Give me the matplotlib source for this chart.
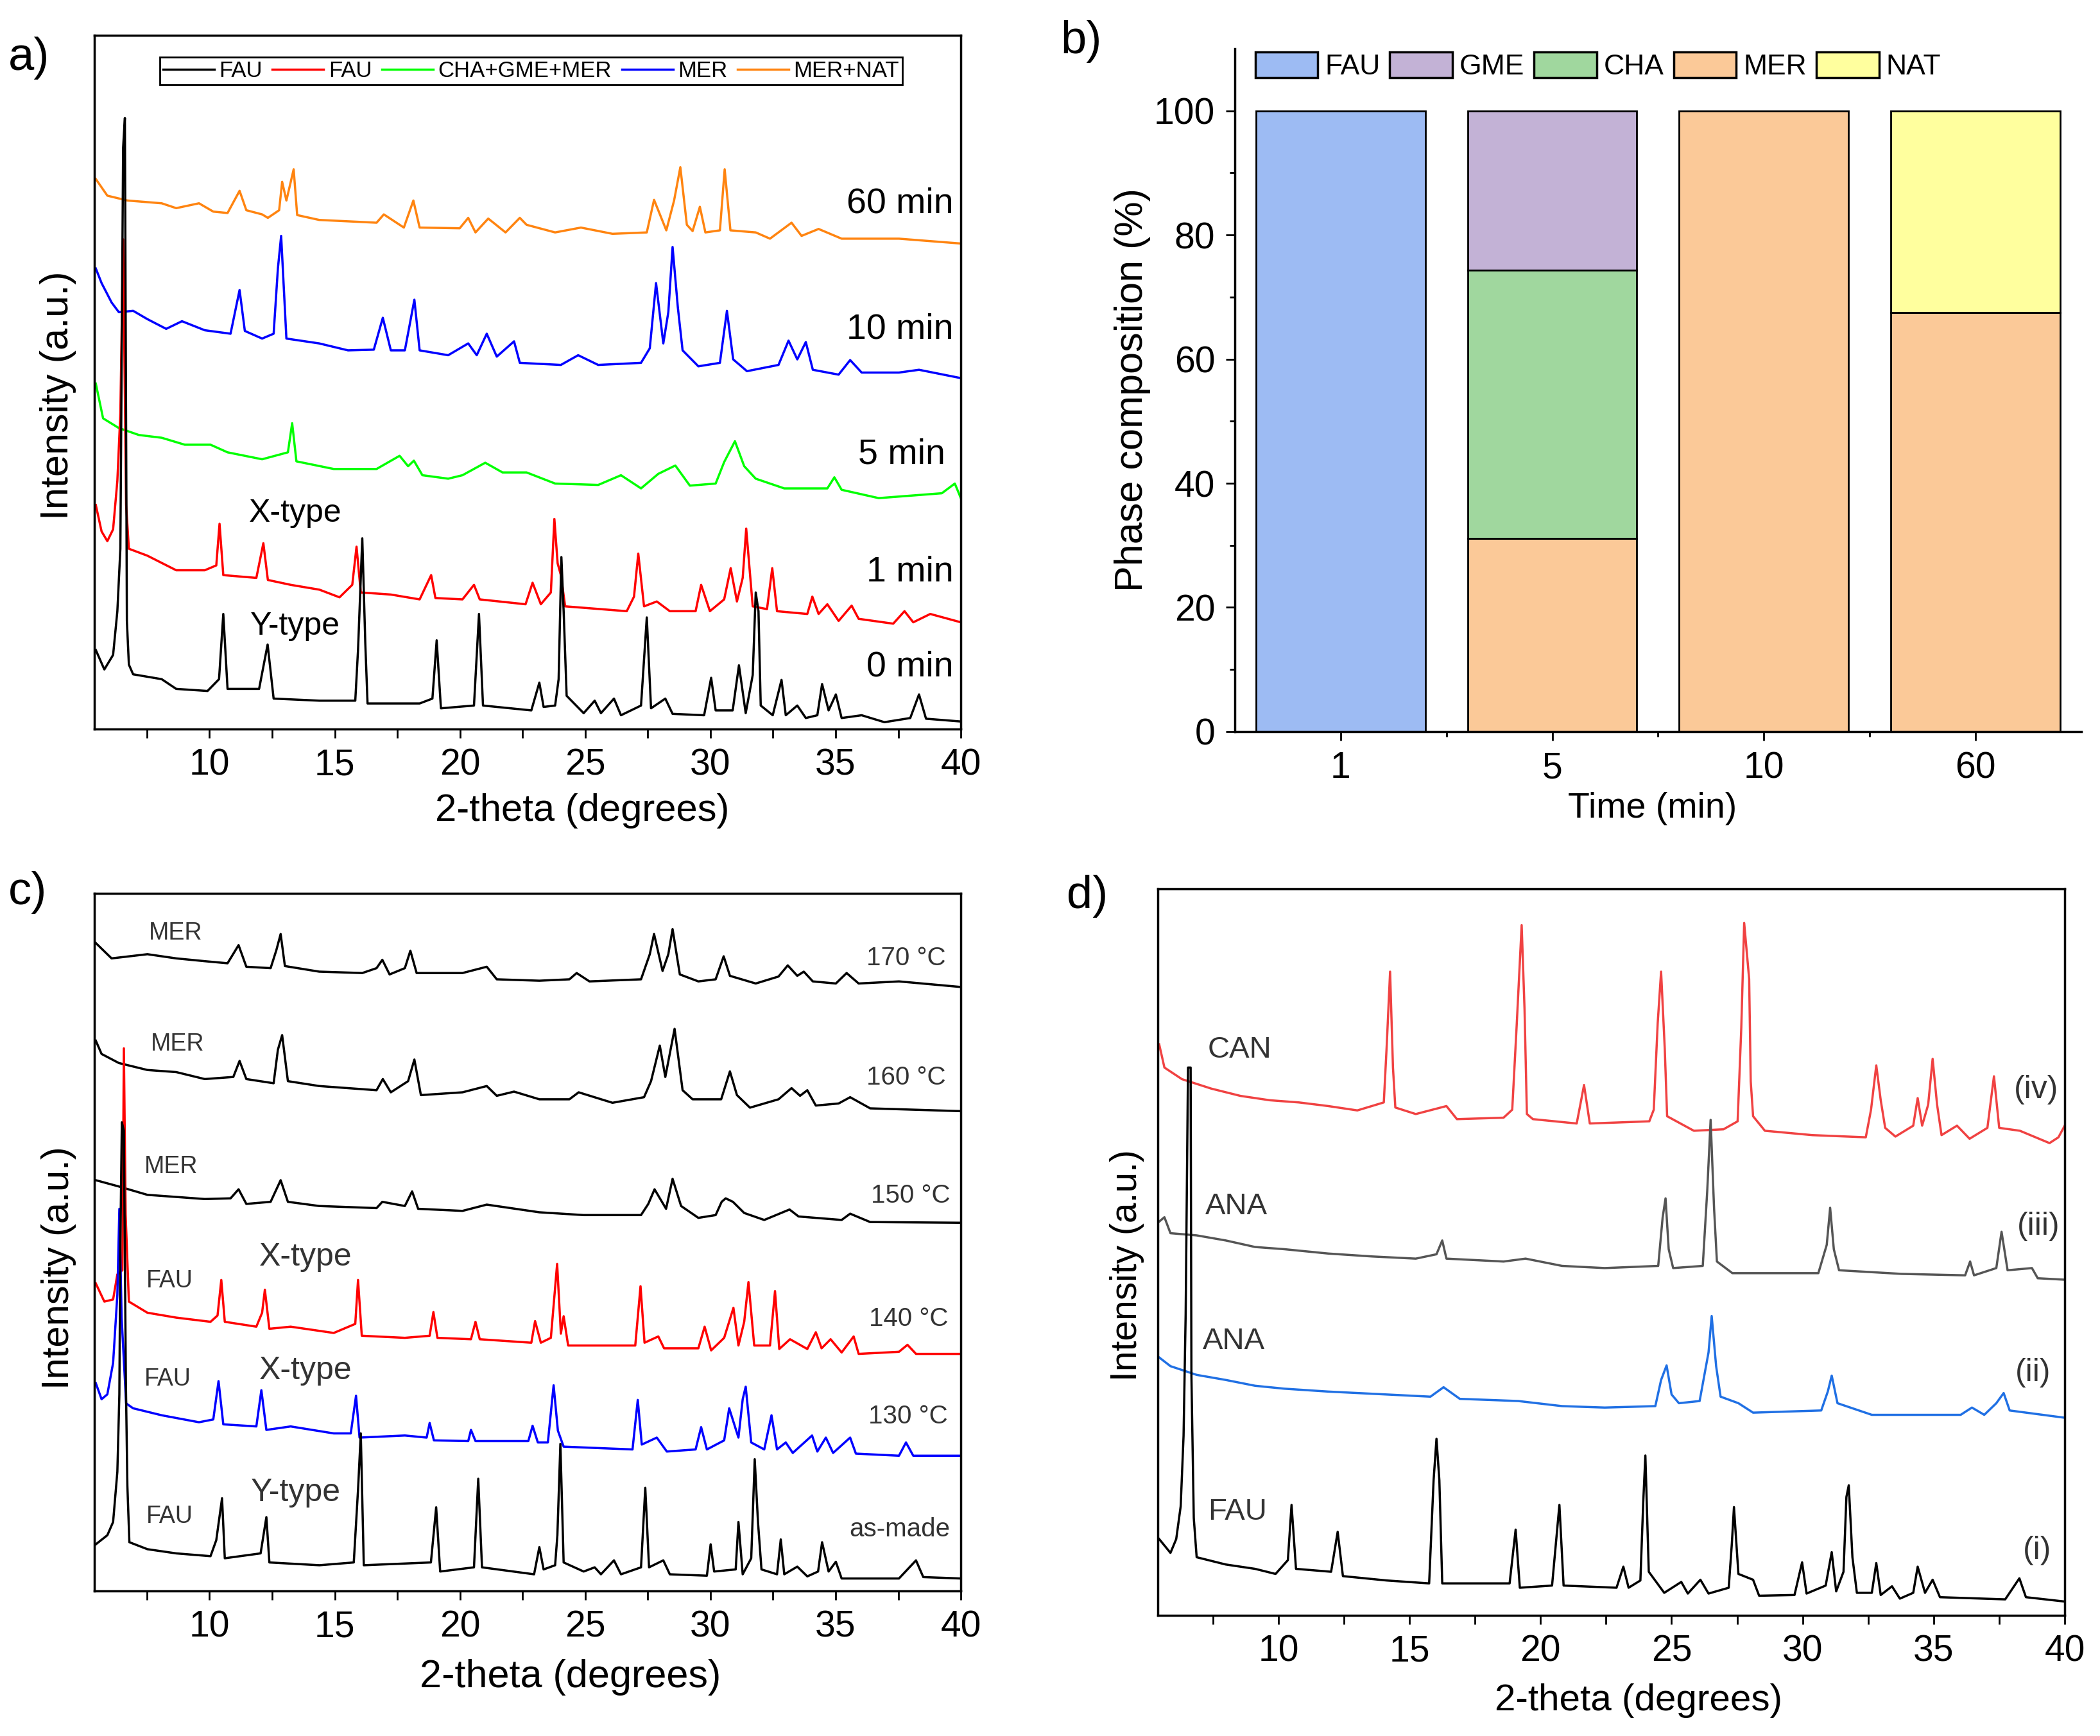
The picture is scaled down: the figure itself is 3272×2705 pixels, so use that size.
import numpy as np
import matplotlib
matplotlib.use('Agg')
import matplotlib.pyplot as plt
from matplotlib.lines import Line2D
from matplotlib.patches import Patch

plt.rcParams['font.family'] = ['Liberation Sans', 'DejaVu Sans']

# ---------- a) patterns vs time: (2-theta, intensity as % of axis height) ----------
a_0min = [(5.46, 11.4), (5.8, 8.6), (6.15, 10.7), (6.32, 17.0), (6.44, 26.0), (6.55, 83.8), (6.62, 88.1),
          (6.7, 15.6), (6.78, 9.3), (6.95, 7.9), (8.09, 7.2), (8.67, 5.8), (9.92, 5.5), (10.38, 7.2),
          (10.55, 16.6), (10.72, 5.8), (11.98, 5.8), (12.32, 12.2), (12.56, 4.4), (14.39, 4.1), (15.82, 4.1),
          (15.93, 11.4), (16.1, 27.5), (16.22, 12.4), (16.31, 3.7), (18.39, 3.7), (18.9, 4.4), (19.07, 12.8),
          (19.24, 3.0), (20.56, 3.4), (20.76, 16.6), (20.92, 3.4), (22.85, 2.7), (23.17, 6.7), (23.34, 3.2),
          (23.8, 3.4), (23.94, 7.2), (24.05, 24.8), (24.14, 17.0), (24.26, 4.8), (24.94, 2.3), (25.38, 4.1),
          (25.63, 2.3), (26.15, 4.4), (26.43, 2.0), (27.23, 3.4), (27.46, 16.1), (27.63, 3.0), (28.2, 4.4),
          (28.49, 2.2), (29.75, 2.0), (30.03, 7.4), (30.21, 2.7), (30.89, 2.7), (31.14, 9.2), (31.41, 2.3),
          (31.69, 7.8), (31.81, 19.7), (31.92, 17.0), (32.01, 3.4), (32.49, 2.0), (32.84, 7.1), (33.01, 2.0),
          (33.47, 3.4), (33.81, 1.6), (34.27, 2.0), (34.46, 6.5), (34.72, 2.7), (35.01, 5.0), (35.24, 1.6),
          (36.04, 2.0), (36.95, 1.0), (37.98, 1.6), (38.33, 5.0), (38.61, 1.5), (40.0, 1.1)]
a_1min = [(5.46, 32.3), (5.69, 28.5), (5.92, 27.1), (6.15, 28.8), (6.32, 35.8), (6.44, 45.5), (6.55, 70.6),
          (6.67, 32.3), (6.78, 26.0), (7.52, 25.0), (8.67, 22.9), (9.81, 22.9), (10.27, 23.6), (10.4, 29.6),
          (10.55, 22.2), (11.87, 21.8), (12.15, 26.8), (12.33, 21.5), (13.24, 20.8), (14.39, 20.1), (15.19, 19.0),
          (15.7, 20.8), (15.87, 26.3), (16.04, 19.7), (17.24, 19.4), (18.39, 18.7), (18.85, 22.2), (19.02, 18.9),
          (20.1, 18.7), (20.56, 20.8), (20.79, 18.7), (22.62, 18.0), (22.9, 21.1), (23.23, 18.0), (23.63, 19.7),
          (23.77, 30.3), (23.9, 23.9), (24.03, 22.2), (24.2, 17.7), (26.66, 17.0), (26.95, 19.1), (27.12, 25.3),
          (27.35, 17.7), (27.86, 18.4), (28.38, 17.0), (29.41, 17.0), (29.63, 20.8), (29.98, 17.0), (30.55, 18.7),
          (30.81, 23.2), (31.06, 18.4), (31.29, 21.8), (31.43, 28.9), (31.69, 17.7), (32.26, 17.3), (32.47, 23.2),
          (32.66, 17.0), (33.87, 16.6), (34.07, 19.1), (34.32, 16.6), (34.67, 18.0), (35.12, 15.6), (35.64, 17.8),
          (35.92, 15.9), (37.3, 15.2), (37.75, 17.0), (38.1, 15.4), (38.78, 16.6), (40.0, 15.4)]
a_5min = [(5.46, 49.8), (5.75, 44.8), (6.38, 43.4), (7.18, 42.4), (8.09, 42.0), (9.01, 41.0), (10.04, 41.0),
          (10.72, 39.9), (12.1, 38.9), (13.13, 39.9), (13.3, 44.1), (13.47, 38.6), (14.96, 37.5), (16.67, 37.5),
          (17.59, 39.4), (17.93, 37.9), (18.16, 38.7), (18.5, 36.6), (19.53, 36.1), (20.1, 36.6), (21.01, 38.4),
          (21.7, 37.0), (22.66, 37.0), (23.8, 35.4), (25.52, 35.2), (26.43, 36.6), (27.23, 34.7), (27.92, 36.8),
          (28.6, 38.0), (29.18, 35.1), (30.21, 35.4), (30.55, 38.5), (30.98, 41.5), (31.35, 37.9), (31.81, 36.1),
          (32.95, 34.7), (34.67, 34.7), (34.95, 36.3), (35.24, 34.5), (36.72, 33.3), (39.24, 34.0), (39.76, 35.4),
          (40.0, 33.3)]
a_10min = [(5.46, 66.4), (5.69, 64.3), (6.09, 61.5), (6.38, 60.1), (6.95, 60.3), (7.52, 59.1), (8.27, 57.7),
           (8.9, 58.8), (9.81, 57.5), (10.84, 57.0), (11.2, 63.3), (11.41, 57.4), (12.1, 56.3), (12.56, 57.0),
           (12.73, 66.4), (12.86, 71.1), (13.07, 56.3), (14.38, 55.6), (15.53, 54.6), (16.56, 54.7), (16.92, 59.3),
           (17.24, 54.6), (17.8, 54.6), (18.18, 61.9), (18.39, 54.6), (19.53, 53.9), (20.33, 55.6), (20.67, 53.9),
           (21.07, 57.0), (21.47, 53.7), (22.16, 55.9), (22.39, 52.8), (24.03, 52.5), (24.72, 53.9), (25.52, 52.5),
           (27.23, 52.8), (27.58, 54.9), (27.83, 64.3), (28.12, 55.6), (28.32, 60.1), (28.49, 69.5), (28.7, 60.8),
           (28.89, 54.6), (29.52, 52.3), (30.38, 52.8), (30.66, 60.3), (30.91, 53.3), (31.46, 51.6), (32.72, 52.5),
           (33.12, 56.0), (33.47, 53.3), (33.81, 55.8), (34.09, 51.8), (35.12, 51.1), (35.58, 53.2), (36.04, 51.4),
           (37.53, 51.4), (38.33, 51.8), (40.0, 50.6)]
a_60min = [(5.46, 79.3), (5.92, 76.9), (6.72, 76.2), (8.09, 75.8), (8.67, 75.1), (9.58, 75.8), (10.15, 74.6),
           (10.72, 74.4), (11.2, 77.6), (11.47, 74.8), (12.1, 74.2), (12.33, 73.7), (12.78, 74.8), (12.9, 78.9),
           (13.07, 76.2), (13.36, 80.7), (13.5, 74.1), (14.38, 73.4), (15.53, 73.2), (16.67, 73.0), (16.96, 74.2),
           (17.76, 72.3), (18.14, 76.2), (18.39, 72.3), (19.99, 72.2), (20.33, 73.7), (20.62, 71.6), (21.13, 73.6),
           (21.82, 71.6), (22.39, 73.7), (22.66, 72.7), (23.8, 71.6), (24.83, 72.3), (26.09, 71.4), (27.46, 71.6),
           (27.75, 76.3), (28.24, 71.9), (28.55, 76.2), (28.8, 81.0), (29.06, 72.7), (29.29, 71.8), (29.58, 75.3),
           (29.8, 71.6), (30.38, 71.9), (30.57, 80.7), (30.8, 71.9), (31.81, 71.6), (32.38, 70.7), (33.24, 73.0),
           (33.64, 71.1), (34.32, 72.1), (35.24, 70.7), (37.53, 70.7), (40.0, 70.0)]
a_curves = [a_0min, a_1min, a_5min, a_10min, a_60min]
a_colors = ['#000000', '#FF0000', '#00FF00', '#0000FF', '#FF8410']
a_legend = ['FAU', 'FAU', 'CHA+GME+MER', 'MER', 'MER+NAT']
a_times = ['0 min', '1 min', '5 min', '10 min', '60 min']

# ---------- b) phase composition ----------
b_times = ['1', '5', '10', '60']
b_mer = [0, 31.1, 100, 67.5]
b_cha = [0, 43.2, 0, 0]
b_gme = [0, 25.7, 0, 0]
b_fau = [100, 0, 0, 0]
b_nat = [0, 0, 0, 32.5]

# ---------- c) patterns vs temperature ----------
c_asmade = [(5.46, 6.7), (5.92, 8.0), (6.15, 9.9), (6.32, 17.1), (6.4, 28.2), (6.44, 50.0), (6.5, 67.2),
            (6.58, 66.0), (6.66, 30.0), (6.72, 15.1), (6.8, 7.0), (7.52, 6.0), (8.67, 5.4), (10.04, 5.0),
            (10.27, 7.3), (10.5, 13.3), (10.61, 4.7), (12.04, 5.4), (12.27, 10.6), (12.39, 4.1), (14.39, 3.7),
            (15.76, 4.1), (15.93, 14.5), (16.04, 22.6), (16.16, 3.7), (18.84, 4.1), (19.05, 12.0), (19.21, 2.8),
            (20.56, 3.4), (20.73, 16.1), (20.88, 3.4), (22.96, 2.4), (23.17, 6.3), (23.34, 3.1), (23.8, 3.7),
            (23.89, 8.0), (24.01, 21.1), (24.14, 4.1), (24.94, 2.8), (25.38, 3.4), (25.63, 2.4), (26.15, 4.4),
            (26.43, 2.4), (27.23, 3.4), (27.4, 14.8), (27.55, 3.4), (28.12, 4.4), (28.38, 2.4), (29.86, 2.2),
            (30.01, 6.7), (30.15, 2.8), (31.01, 3.1), (31.12, 9.9), (31.29, 2.4), (31.63, 4.7), (31.77, 18.9),
            (31.9, 9.9), (32.04, 3.1), (32.66, 2.4), (32.81, 7.4), (32.95, 2.4), (33.47, 3.5), (33.87, 2.1),
            (34.3, 2.8), (34.46, 7.0), (34.72, 2.8), (35.01, 4.2), (35.24, 1.8), (37.53, 1.8), (38.21, 4.4),
            (38.5, 2.0), (40.0, 1.8)]
c_130 = [(5.46, 29.8), (5.69, 27.5), (5.92, 28.2), (6.15, 32.7), (6.32, 42.5), (6.4, 54.8), (6.49, 39.2),
         (6.67, 26.9), (6.95, 26.2), (8.09, 25.2), (9.58, 24.2), (10.15, 24.6), (10.36, 30.1), (10.55, 23.9),
         (11.87, 23.6), (12.07, 28.8), (12.27, 23.1), (13.24, 23.6), (14.96, 22.6), (15.64, 22.6), (15.85, 28.0),
         (15.99, 22.0), (17.8, 22.3), (18.67, 22.0), (18.79, 24.1), (18.96, 21.6), (20.33, 21.5), (20.44, 23.1),
         (20.62, 21.5), (22.73, 21.5), (22.9, 23.7), (23.11, 21.3), (23.51, 21.3), (23.74, 29.5), (23.91, 23.0),
         (24.14, 20.7), (26.89, 20.3), (27.1, 27.4), (27.26, 21.0), (27.86, 22.0), (28.26, 20.0), (29.41, 20.3),
         (29.63, 23.5), (29.86, 20.3), (30.55, 21.6), (30.75, 26.2), (31.12, 22.0), (31.29, 27.5), (31.41, 29.3),
         (31.63, 21.3), (32.15, 20.3), (32.44, 25.2), (32.66, 20.3), (33.01, 21.3), (33.29, 19.8), (34.06, 22.3),
         (34.27, 20.0), (34.61, 22.0), (34.9, 19.8), (35.58, 22.0), (35.81, 19.7), (37.53, 19.4), (37.81, 21.3),
         (38.1, 19.4), (40.0, 19.4)]
c_140 = [(5.46, 44.1), (5.8, 41.5), (6.15, 41.8), (6.32, 45.4), (6.52, 46.0), (6.58, 77.8), (6.65, 54.0),
         (6.78, 41.5), (7.52, 39.9), (8.67, 39.2), (10.04, 38.6), (10.32, 39.5), (10.47, 44.6), (10.61, 38.6),
         (11.87, 37.9), (12.1, 39.9), (12.21, 43.2), (12.39, 37.6), (13.24, 37.9), (14.96, 37.0), (15.82, 38.3),
         (15.93, 44.6), (16.08, 36.6), (17.8, 36.3), (18.79, 36.6), (18.94, 40.0), (19.1, 36.3), (20.44, 36.1),
         (20.62, 38.6), (20.79, 36.1), (22.85, 35.6), (23.0, 38.7), (23.23, 35.6), (23.63, 36.3), (23.88, 46.9),
         (24.03, 36.9), (24.14, 39.4), (24.32, 35.2), (27.0, 35.2), (27.21, 43.7), (27.37, 35.6), (27.92, 36.5),
         (28.15, 34.8), (29.52, 34.8), (29.77, 37.9), (30.03, 34.5), (30.55, 36.3), (30.92, 40.6), (31.12, 35.2),
         (31.35, 38.6), (31.52, 44.3), (31.75, 35.2), (32.38, 35.2), (32.58, 43.0), (32.75, 34.7), (33.18, 36.1),
         (33.87, 34.7), (34.21, 37.1), (34.44, 34.8), (34.8, 36.1), (35.24, 34.2), (35.72, 36.5), (35.92, 34.0),
         (37.53, 34.3), (37.87, 35.3), (38.21, 34.0), (40.0, 34.0)]
c_150 = [(5.46, 58.9), (6.38, 58.0), (7.52, 56.8), (8.67, 56.5), (9.81, 56.2), (10.84, 56.3), (11.16, 57.6),
         (11.47, 55.5), (12.44, 55.8), (12.84, 58.9), (13.13, 55.8), (14.38, 55.2), (16.67, 54.9), (16.9, 55.8),
         (17.8, 55.2), (18.09, 57.3), (18.33, 54.8), (20.1, 54.5), (21.07, 55.4), (23.17, 54.3), (24.94, 53.9),
         (27.23, 53.9), (27.52, 55.5), (27.77, 57.6), (28.23, 54.8), (28.49, 59.1), (28.83, 55.2), (29.52, 53.5),
         (30.21, 53.9), (30.45, 55.8), (30.61, 56.3), (30.9, 55.8), (31.35, 54.2), (32.15, 53.2), (33.16, 54.7),
         (33.52, 53.7), (35.24, 53.2), (35.58, 54.1), (36.38, 52.9), (40.0, 52.8)]
c_160 = [(5.46, 78.9), (5.69, 77.0), (6.38, 75.7), (7.52, 74.7), (8.67, 74.4), (9.81, 73.4), (10.95, 73.7),
         (11.2, 76.0), (11.47, 73.4), (12.56, 72.8), (12.73, 77.6), (12.9, 79.7), (13.13, 73.1), (14.38, 72.4),
         (16.67, 71.8), (16.92, 73.4), (17.24, 71.5), (17.93, 73.1), (18.18, 76.2), (18.44, 71.1), (20.1, 71.5),
         (21.07, 72.4), (21.47, 71.0), (22.16, 71.6), (23.17, 70.5), (24.37, 70.5), (24.74, 71.5), (26.09, 70.0),
         (27.35, 70.8), (27.63, 73.1), (27.98, 78.2), (28.2, 73.7), (28.57, 80.6), (28.89, 71.8), (29.29, 70.5),
         (30.43, 70.5), (30.78, 74.5), (31.06, 71.1), (31.58, 69.3), (32.72, 70.5), (33.24, 72.1), (33.58, 71.0),
         (33.87, 71.8), (34.21, 69.6), (35.12, 69.9), (35.58, 70.8), (36.38, 69.2), (40.0, 68.8)]
c_170 = [(5.46, 92.9), (6.09, 90.7), (7.52, 91.3), (8.67, 90.7), (9.81, 90.3), (10.72, 90.0), (11.16, 92.6),
         (11.47, 89.5), (12.44, 89.3), (12.67, 91.9), (12.84, 94.2), (13.01, 89.6), (14.38, 88.8), (16.1, 88.6),
         (16.67, 89.3), (16.9, 90.5), (17.19, 88.4), (17.8, 89.3), (18.02, 91.8), (18.27, 88.6), (20.1, 88.6),
         (21.07, 89.5), (21.47, 87.7), (23.17, 87.5), (24.37, 87.7), (24.66, 88.6), (25.17, 87.4), (27.23, 87.7),
         (27.58, 91.3), (27.75, 94.2), (28.09, 88.9), (28.32, 91.3), (28.49, 94.9), (28.78, 88.4), (29.52, 87.4),
         (30.21, 87.7), (30.53, 91.0), (30.78, 88.2), (31.81, 87.1), (32.72, 88.1), (33.09, 89.7), (33.47, 88.2),
         (33.73, 88.8), (34.09, 87.4), (35.01, 87.1), (35.44, 88.6), (35.92, 87.1), (37.53, 87.4), (40.0, 86.6)]
c_curves = [c_asmade, c_130, c_140, c_150, c_160, c_170]
c_colors = ['#000000', '#0000FF', '#FF0000', '#000000', '#000000', '#000000']
c_temps = ['as-made', '130 °C', '140 °C', '150 °C', '160 °C', '170 °C']

# ---------- d) other products ----------
d_i = [(5.45, 10.5), (5.88, 8.6), (6.1, 10.5), (6.27, 15.0), (6.38, 24.7), (6.46, 41.4), (6.55, 75.4),
       (6.65, 75.4), (6.68, 33.0), (6.77, 13.4), (6.88, 8.0), (7.99, 7.0), (9.11, 6.4), (9.89, 5.7), (10.36, 7.6),
       (10.5, 15.2), (10.67, 6.4), (12.01, 6.0), (12.26, 11.5), (12.46, 5.4), (14.13, 4.8), (15.75, 4.4),
       (15.92, 18.6), (16.03, 24.3), (16.14, 18.6), (16.25, 4.4), (18.82, 4.4), (19.05, 11.8), (19.21, 3.8),
       (20.44, 4.1), (20.72, 15.2), (20.88, 4.1), (22.9, 3.8), (23.16, 6.7), (23.36, 3.8), (23.81, 4.8),
       (23.92, 15.7), (24.0, 22.0), (24.13, 6.0), (24.72, 3.1), (25.37, 4.6), (25.62, 3.0), (26.1, 4.9),
       (26.41, 3.0), (27.18, 3.8), (27.3, 9.9), (27.38, 14.9), (27.55, 5.7), (28.11, 4.9), (28.34, 2.7),
       (29.69, 2.8), (29.98, 7.3), (30.15, 3.0), (30.88, 4.1), (31.11, 8.7), (31.28, 3.3), (31.56, 6.0),
       (31.67, 16.3), (31.76, 17.9), (31.9, 8.0), (32.07, 3.1), (32.64, 3.1), (32.81, 7.2), (32.98, 2.8),
       (33.41, 4.0), (33.71, 2.3), (34.22, 3.1), (34.39, 6.7), (34.67, 3.1), (34.96, 4.9), (35.24, 2.5),
       (37.73, 2.2), (38.27, 5.1), (38.52, 2.5), (40.0, 1.9)]
d_ii = [(5.45, 35.5), (5.88, 34.3), (6.88, 33.1), (7.99, 32.4), (9.11, 31.6), (10.22, 31.2), (11.9, 30.8),
        (14.13, 30.4), (15.8, 30.1), (16.3, 31.4), (16.92, 29.8), (19.15, 29.5), (20.82, 28.8), (22.45, 28.6),
        (24.38, 28.8), (24.6, 32.4), (24.81, 34.4), (25.0, 30.4), (25.28, 29.2), (26.07, 29.5), (26.41, 36.2),
        (26.53, 41.2), (26.7, 34.3), (26.87, 30.1), (27.55, 29.2), (28.11, 27.9), (30.71, 28.2), (30.96, 30.8),
        (31.11, 33.0), (31.33, 29.2), (32.64, 27.6), (36.03, 27.6), (36.46, 28.6), (36.93, 27.6), (37.39, 29.2),
        (37.67, 30.6), (37.9, 28.2), (40.0, 27.2)]
d_iii = [(5.45, 54.2), (5.65, 54.8), (5.88, 52.6), (6.88, 52.3), (7.99, 51.6), (9.11, 50.7), (10.22, 50.4),
         (11.9, 49.8), (13.57, 49.4), (15.24, 49.1), (16.03, 49.7), (16.25, 51.6), (16.41, 49.1), (18.59, 48.7),
         (19.43, 49.1), (20.82, 48.1), (22.45, 47.8), (24.49, 48.1), (24.66, 54.8), (24.77, 57.4), (24.89, 50.4),
         (25.06, 47.8), (26.19, 48.1), (26.36, 58.4), (26.49, 68.2), (26.62, 56.1), (26.73, 48.7), (27.32, 47.1),
         (30.6, 47.1), (30.92, 51.0), (31.05, 56.1), (31.19, 50.4), (31.39, 47.5), (33.77, 47.0), (36.2, 46.8),
         (36.39, 48.7), (36.54, 46.8), (37.39, 47.8), (37.59, 52.8), (37.82, 47.5), (38.75, 47.8), (38.97, 46.4),
         (40.0, 46.2)]
d_iv = [(5.45, 78.6), (5.65, 75.4), (6.32, 73.8), (7.44, 72.5), (8.55, 71.5), (9.67, 70.9), (10.78, 70.6),
        (11.9, 70.1), (13.01, 69.5), (14.02, 70.6), (14.13, 78.3), (14.26, 88.6), (14.37, 75.4), (14.46, 69.9),
        (15.24, 69.0), (16.41, 70.1), (16.81, 68.3), (18.59, 68.5), (18.92, 69.6), (19.09, 81.2), (19.28, 95.0),
        (19.39, 83.4), (19.48, 69.0), (19.71, 68.3), (21.38, 67.7), (21.55, 70.9), (21.66, 73.0), (21.88, 67.7),
        (24.15, 68.0), (24.32, 69.6), (24.47, 81.5), (24.6, 88.6), (24.74, 78.0), (24.83, 68.7), (25.85, 66.7),
        (26.98, 66.9), (27.52, 68.0), (27.66, 80.9), (27.77, 95.3), (27.96, 87.6), (28.02, 73.5), (28.11, 68.7),
        (28.56, 66.7), (30.37, 66.1), (32.41, 65.8), (32.61, 69.6), (32.81, 75.7), (32.98, 70.9), (33.15, 67.1),
        (33.54, 65.9), (34.22, 67.4), (34.39, 71.2), (34.56, 67.4), (34.79, 70.3), (34.96, 76.6), (35.13, 70.3),
        (35.3, 66.1), (35.89, 67.4), (36.37, 65.6), (37.05, 67.1), (37.3, 74.2), (37.5, 67.1), (38.29, 66.7),
        (39.42, 65.0), (39.76, 65.8), (40.0, 67.4)]
d_curves = [d_i, d_ii, d_iii, d_iv]
d_colors = ['#000000', '#2070E4', '#555555', '#F04242']
d_phases = ['FAU', 'ANA', 'ANA', 'CAN']
d_numerals = ['(i)', '(ii)', '(iii)', '(iv)']


def style_xrd(ax):
    ax.set_xlim(5.4, 40)
    ax.set_ylim(0, 100)
    ax.set_yticks([])
    ax.set_xticks([10, 15, 20, 25, 30, 35, 40])
    ax.set_xticks(np.arange(7.5, 40, 5), minor=True)
    ax.tick_params(axis='x', which='both', direction='out', length=10, width=2,
                   labelsize=41, pad=11)
    for s in ax.spines.values():
        s.set_linewidth(2.5)


def draw_curves(ax, curves, colors):
    # later entries first, so the low (FAU) traces sit on top like the original
    for pts, c in reversed(list(zip(curves, colors))):
        x, y = zip(*pts)
        ax.plot(x, y, color=c, lw=2.5)


fig = plt.figure(figsize=(32.73, 27.05), dpi=100)

# ---------- a) ----------
ax_a = fig.add_axes([0.0449, 0.5800, 0.4125, 0.3996])
draw_curves(ax_a, a_curves, a_colors)
style_xrd(ax_a)
ax_a.set_xlabel('2-theta (degrees)', fontsize=43)
ax_a.set_ylabel('Intensity (a.u.)', fontsize=44)
ax_a.xaxis.set_label_coords(0.563, -0.092)
ax_a.yaxis.set_label_coords(-0.021, 0.481)
a_lab_y = [7.6, 21.3, 38.3, 56.3, 74.4]
a_lab_x = [39.7, 39.7, 39.38, 39.7, 39.7]
for s, x, y in zip(a_times, a_lab_x, a_lab_y):
    ax_a.text(x, y, s, ha='right', va='baseline', fontsize=40)
ax_a.text(13.42, 29.9, 'X-type', ha='center', va='baseline', fontsize=36)
ax_a.text(13.42, 13.6, 'Y-type', ha='center', va='baseline', fontsize=36)
a_handles = [Line2D([], [], color=c, lw=2.5) for c in a_colors]
leg = ax_a.legend(a_handles, a_legend, loc='upper center', bbox_to_anchor=(0.504, 0.985),
                  ncol=5, fontsize=25, handlelength=2.3, handletextpad=0.22, columnspacing=0.45,
                  borderpad=0.15, fancybox=False, edgecolor='black', framealpha=1)
leg.get_frame().set_linewidth(2)

# ---------- b) ----------
ax_b = fig.add_axes([0.5878, 0.5786, 0.4030, 0.3933])
pos = np.arange(len(b_times))
bar_kw = dict(width=0.8, edgecolor='black', linewidth=2)
bottom = np.zeros(len(b_times))
b_stack = [('FAU', b_fau, '#9DBBF3'), ('MER', b_mer, '#FBC998'), ('CHA', b_cha, '#A0D79E'),
           ('GME', b_gme, '#C3B2D6'), ('NAT', b_nat, '#FFFF9E')]
b_col = {}
for name, vals, col in b_stack:
    vals = np.array(vals, dtype=float)
    mask = vals > 0
    ax_b.bar(pos[mask], vals[mask], bottom=bottom[mask], color=col, **bar_kw)
    bottom = bottom + vals
    b_col[name] = col
ax_b.set_xlim(-0.5, 3.5)
ax_b.set_ylim(0, 110)
ax_b.set_xticks(pos)
ax_b.set_xticklabels(b_times)
ax_b.set_xticks([0.5, 1.5, 2.5], minor=True)
ax_b.set_yticks([0, 20, 40, 60, 80, 100])
ax_b.set_yticks([10, 30, 50, 70, 90], minor=True)
ax_b.tick_params(which='major', direction='out', length=10, width=2, labelsize=41, pad=12)
ax_b.tick_params(which='minor', direction='out', length=6, width=2)
ax_b.spines['top'].set_visible(False)
ax_b.spines['right'].set_visible(False)
ax_b.spines['left'].set_linewidth(2.5)
ax_b.spines['bottom'].set_linewidth(2.5)
ax_b.set_xlabel('Time (min)', fontsize=40)
ax_b.set_ylabel('Phase composition (%)', fontsize=44)
ax_b.xaxis.set_label_coords(0.493, -0.088)
ax_b.yaxis.set_label_coords(-0.099, 0.5)
b_order = ['FAU', 'GME', 'CHA', 'MER', 'NAT']
b_handles = [Patch(facecolor=b_col[n], edgecolor='black', linewidth=2.5) for n in b_order]
ax_b.legend(b_handles, b_order, loc='upper left', bbox_to_anchor=(0.024, 0.995), ncol=5,
            frameon=False, fontsize=32, handlelength=2.2, handleheight=1.0, handletextpad=0.25,
            columnspacing=0.33, borderpad=0, borderaxespad=0)

# ---------- c) ----------
ax_c = fig.add_axes([0.0449, 0.0835, 0.4125, 0.4018])
draw_curves(ax_c, c_curves, c_colors)
style_xrd(ax_c)
ax_c.set_xlabel('2-theta (degrees)', fontsize=44)
ax_c.set_ylabel('Intensity (a.u.)', fontsize=43)
ax_c.xaxis.set_label_coords(0.549, -0.097)
ax_c.yaxis.set_label_coords(-0.021, 0.463)
c_lab_x = [39.58, 39.49, 39.49, 39.58, 39.41, 39.41]
c_lab_y = [7.8, 24.0, 38.0, 55.7, 72.6, 89.7]
for s, x, y in zip(c_temps, c_lab_x, c_lab_y):
    ax_c.text(x, y, s, ha='right', va='baseline', fontsize=29, color='#333333')
c_phase = ['FAU', 'FAU', 'FAU', 'MER', 'MER', 'MER']
c_phase_x = [7.47, 7.39, 7.47, 7.39, 7.66, 7.58]
c_phase_y = [9.8, 29.5, 43.5, 59.9, 77.5, 93.4]
for s, x, y in zip(c_phase, c_phase_x, c_phase_y):
    ax_c.text(x, y, s, ha='left', va='baseline', fontsize=27, color='#333333')
ax_c.text(13.84, 46.7, 'X-type', ha='center', va='baseline', fontsize=36, color='#333333')
ax_c.text(13.84, 30.4, 'X-type', ha='center', va='baseline', fontsize=36, color='#333333')
ax_c.text(13.44, 12.9, 'Y-type', ha='center', va='baseline', fontsize=36, color='#333333')

# ---------- d) ----------
ax_d = fig.add_axes([0.5512, 0.0695, 0.4317, 0.4185])
draw_curves(ax_d, d_curves, d_colors)
style_xrd(ax_d)
ax_d.set_xlabel('2-theta (degrees)', fontsize=42)
ax_d.set_ylabel('Intensity (a.u.)', fontsize=41)
ax_d.xaxis.set_label_coords(0.530, -0.094)
ax_d.yaxis.set_label_coords(-0.015, 0.482)
d_phase_x = [7.3, 7.1, 7.21, 7.3]
d_phase_y = [13.2, 36.7, 55.2, 76.8]
for s, x, y in zip(d_phases, d_phase_x, d_phase_y):
    ax_d.text(x, y, s, ha='left', va='baseline', fontsize=34, color='#333333')
d_num_x = [39.48, 39.48, 39.82, 39.76]
d_num_y = [7.8, 32.2, 52.4, 71.2]
for s, x, y in zip(d_numerals, d_num_x, d_num_y):
    ax_d.text(x, y, s, ha='right', va='baseline', fontsize=36, color='#333333')

# ---------- panel letters ----------
fig.text(0.004, 0.9664, 'a)', fontsize=52, va='center', ha='left')
fig.text(0.5048, 0.976, 'b)', fontsize=52, va='center', ha='left')
fig.text(0.004, 0.486, 'c)', fontsize=52, va='center', ha='left')
fig.text(0.5078, 0.4836, 'd)', fontsize=52, va='center', ha='left')

fig.savefig('out.png', dpi=100)
